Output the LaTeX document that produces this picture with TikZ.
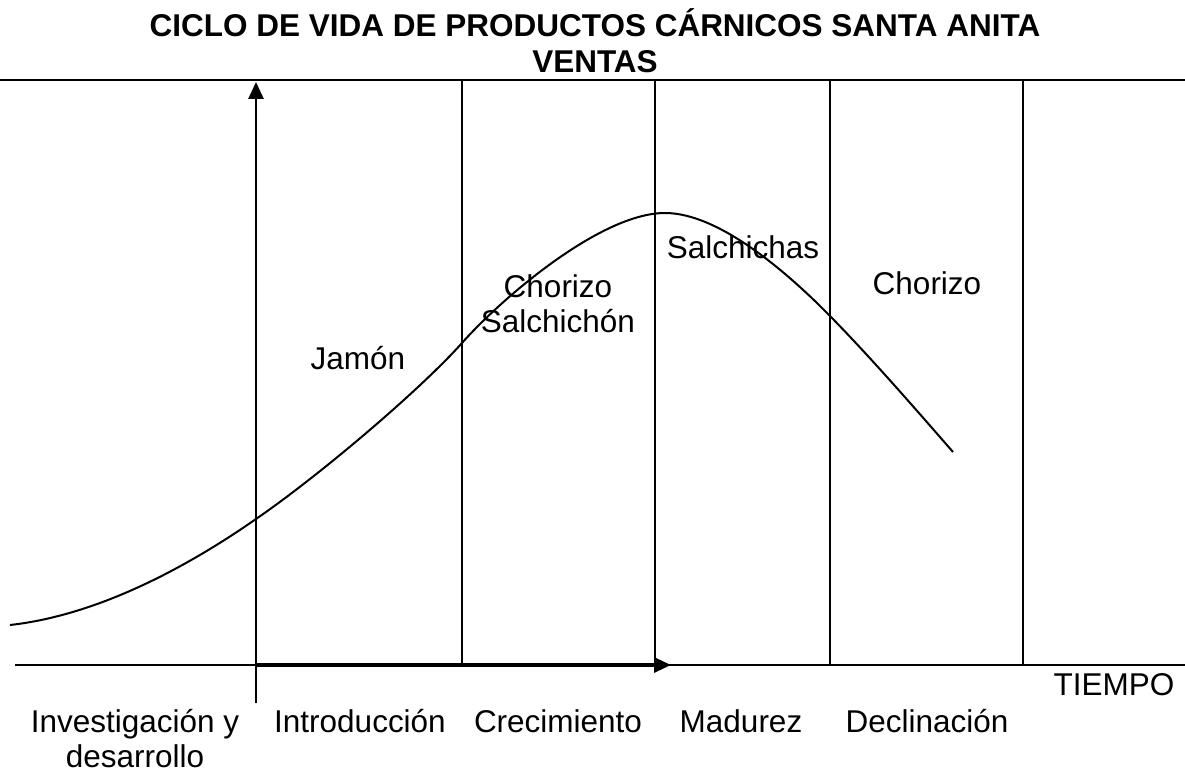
\documentclass[tikz,border=0pt]{standalone}
\usepackage{fontspec}
\setmainfont{Liberation Sans}
\usetikzlibrary{arrows.meta}
\begin{document}
\begin{tikzpicture}[x=0.25mm,y=-0.25mm,
	linea/.style={line width=0.5mm},
	eje/.style={line width=0.8mm,-{Triangle[length=4.25mm,width=3.75mm]}},
	texto/.style={anchor=base,inner sep=0pt,align=center,font=\fontsize{22.4}{24.9}\selectfont}]
	\useasboundingbox (0,0) rectangle (1185,773);
	%%%% Titulo
	\node[texto,font=\fontsize{22.4}{24.9}\selectfont\bfseries] (titulo) at (595,37) {CICLO DE VIDA DE PRODUCTOS CÁRNICOS SANTA ANITA};
	\node[texto,font=\fontsize{22.4}{24.9}\selectfont\bfseries] (ventas) at (595,73) {VENTAS};
	%%%% Rejilla de fases
	\draw[linea] (0,80) -- (1185,80);
	\draw[linea] (15,665) -- (1185,665);
	\foreach \x in {462,655,830,1023} {
		\draw[linea] (\x,80) -- (\x,665);
	}
	% Ejes
	\coordinate (abajo) at (256,703);
	\coordinate (origen) at (256,665);
	\coordinate (arriba) at (256,82);
	\coordinate (derecha) at (671,665);
	\draw[eje,line width=0.7mm] (abajo) -- (arriba);
	\draw[eje] (origen) -- (derecha);
	%%%% Curva de ventas
	\draw[linea] (10,625) .. controls (100,615) and (190,565) .. (256,519)
		.. controls (320,475) and (420,390) .. (462,343)
		.. controls (500,300) and (600,213) .. (665,213)
		.. controls (720,213) and (790,275) .. (831,317)
		.. controls (872,359) and (912,405) .. (953,452);
	% Productos
	\node[texto] (jamon) at (358,370) {Jamón};
	\node[texto] (chorizoA) at (558,333) {Chorizo\\Salchichón};
	\node[texto] (salchichas) at (743,259) {Salchichas};
	\node[texto] (chorizoB) at (927,295) {Chorizo};
	%%%% Fases
	\node[texto] (tiempo) at (1114,695) {TIEMPO};
	\node[texto] (investigacion) at (135,768) {Investigación y\\desarrollo};
	\node[texto] (introduccion) at (360,733) {Introducción};
	\node[texto] (crecimiento) at (558,733) {Crecimiento};
	\node[texto] (madurez) at (741,733) {Madurez};
	\node[texto] (declinacion) at (927,733) {Declinación};
\end{tikzpicture}
\end{document}
